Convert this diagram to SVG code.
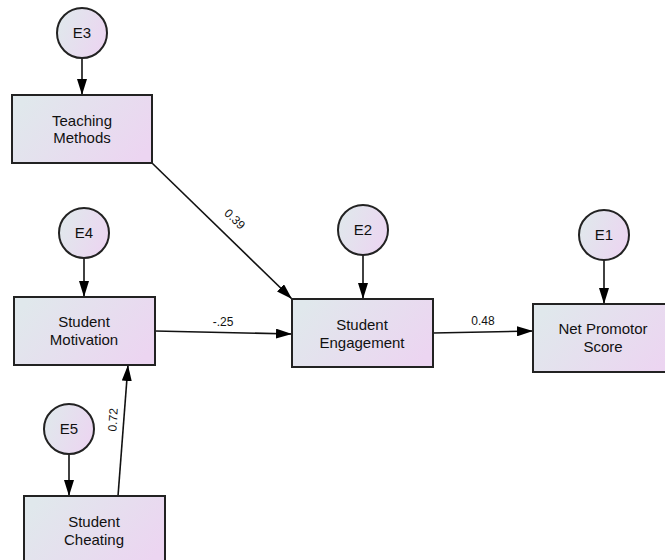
<svg xmlns="http://www.w3.org/2000/svg" width="665" height="560" viewBox="0 0 665 560">
  <style>
    .box { stroke: #222; stroke-width: 2; fill: url(#fillGrad); }
    .err { stroke: #222; stroke-width: 2; fill: url(#fillGrad); }
    .lbl { font-family: "Liberation Sans", Arial, sans-serif; font-size: 15px; fill: #111; text-anchor: middle; }
    .coef { font-family: "Liberation Sans", Arial, sans-serif; font-size: 12px; fill: #111; text-anchor: middle; }
    .edge { stroke: #111; stroke-width: 1.6; fill: none; marker-end: url(#arrow); }
  </style>
  <defs>
    <linearGradient id="fillGrad" x1="0" y1="0.3" x2="1" y2="0.7">
      <stop offset="0" stop-color="#e0e8ec"/>
      <stop offset="1" stop-color="#ecd5f1"/>
    </linearGradient>
    <marker id="arrow" viewBox="0 0 16 10" refX="16" refY="5" markerWidth="16" markerHeight="10" markerUnits="userSpaceOnUse" orient="auto">
      <path d="M0,0 L16,5 L0,10 Z" fill="#000"/>
    </marker>
  </defs>

  <!-- connectors -->
  <g id="connectors">
    <line class="edge" x1="82" y1="58" x2="82" y2="95"/>
    <line class="edge" x1="84" y1="258" x2="84" y2="297"/>
    <line class="edge" x1="69" y1="454" x2="69" y2="496"/>
    <line class="edge" x1="363" y1="255" x2="363" y2="299"/>
    <line class="edge" x1="604" y1="260" x2="604" y2="304"/>
    <line class="edge" x1="152" y1="163" x2="292" y2="299"/>
    <line class="edge" x1="155" y1="331" x2="292" y2="334"/>
    <line class="edge" x1="433" y1="333" x2="533" y2="331"/>
    <line class="edge" x1="118" y1="496" x2="128" y2="365"/>
    <text class="coef" transform="translate(232,222) rotate(44)">0.39</text>
    <text class="coef" x="223" y="326">-.25</text>
    <text class="coef" x="483" y="325">0.48</text>
    <text class="coef" transform="translate(117,420) rotate(-86)">0.72</text>
  </g>

  <!-- error terms -->
  <g id="E3">
    <circle class="err" cx="82" cy="33" r="25"/>
    <text class="lbl" x="82" y="38">E3</text>
  </g>
  <g id="E4">
    <circle class="err" cx="84" cy="233" r="25"/>
    <text class="lbl" x="84" y="238">E4</text>
  </g>
  <g id="E5">
    <circle class="err" cx="69" cy="429" r="25"/>
    <text class="lbl" x="69" y="434">E5</text>
  </g>
  <g id="E2">
    <circle class="err" cx="363" cy="230" r="25"/>
    <text class="lbl" x="363" y="235">E2</text>
  </g>
  <g id="E1">
    <circle class="err" cx="604" cy="235" r="25"/>
    <text class="lbl" x="604" y="240">E1</text>
  </g>

  <!-- observed variables -->
  <g id="teaching-methods">
    <rect class="box" x="12" y="95" width="140" height="68"/>
    <text class="lbl" x="82" y="126">Teaching</text>
    <text class="lbl" x="82" y="143">Methods</text>
  </g>
  <g id="student-motivation">
    <rect class="box" x="14" y="297" width="141" height="68"/>
    <text class="lbl" x="84" y="327">Student</text>
    <text class="lbl" x="84" y="345">Motivation</text>
  </g>
  <g id="student-cheating">
    <rect class="box" x="24" y="496" width="141" height="68"/>
    <text class="lbl" x="94" y="527">Student</text>
    <text class="lbl" x="94" y="545">Cheating</text>
  </g>
  <g id="student-engagement">
    <rect class="box" x="292" y="299" width="141" height="68"/>
    <text class="lbl" x="362" y="330">Student</text>
    <text class="lbl" x="362" y="348">Engagement</text>
  </g>
  <g id="net-promotor-score">
    <rect class="box" x="533" y="304" width="141" height="68"/>
    <text class="lbl" x="603" y="334">Net Promotor</text>
    <text class="lbl" x="603" y="352">Score</text>
  </g>
</svg>
